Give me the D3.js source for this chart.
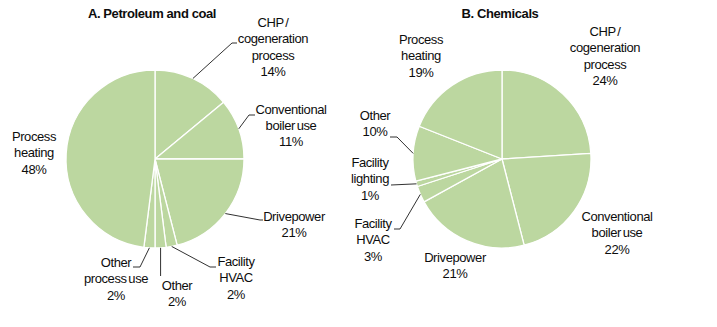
<!DOCTYPE html>
<html>
<head>
<meta charset="utf-8">
<script src="https://cdn.jsdelivr.net/npm/d3@7/dist/d3.min.js"></script>
<style>
  html, body { margin: 0; padding: 0; background: #ffffff; }
  svg { display: block; }
  text { font-family: "Liberation Sans", Arial, sans-serif; fill: #0d0d0d; }
</style>
</head>
<body>
<svg id="chart" width="717" height="327"></svg>
<script>
// ---- Data ----
const petroleumTitle = "A. Petroleum and coal";
const petroleumCategories = ["CHP / cogeneration process", "Conventional boiler use", "Drivepower", "Facility HVAC", "Other", "Other process use", "Process heating"];
const petroleumValues = [14, 11, 21, 2, 2, 2, 48];

const chemicalsTitle = "B. Chemicals";
const chemicalsCategories = ["CHP / cogeneration process", "Conventional boiler use", "Drivepower", "Facility HVAC", "Facility lighting", "Other", "Process heating"];
const chemicalsValues = [24, 22, 21, 3, 1, 10, 19];

// label line breaks (text content)
const petroleumLabelLines = [["CHP /", "cogeneration", "process"], ["Conventional", "boiler use"], ["Drivepower"], ["Facility", "HVAC"], ["Other"], ["Other", "process use"], ["Process", "heating"]];
const chemicalsLabelLines = [["CHP /", "cogeneration", "process"], ["Conventional", "boiler use"], ["Drivepower"], ["Facility", "HVAC"], ["Facility", "lighting"], ["Other"], ["Process", "heating"]];

// ---- Layout (positions, not data) ----
const R = 89;
const LINE_H = 16.4;
const panels = [
  {
    title: petroleumTitle, cats: petroleumCategories, vals: petroleumValues, lines: petroleumLabelLines,
    cx: 155, cy: 159, titleX: 152,
    // label center x, first baseline y, leader elbow, leader end (absolute)
    labels: [
      {x: 273, y: 27, leader: [[232, 43], [237, 43]]},
      {x: 291, y: 113.5, leader: [[249, 115], [255, 115]]},
      {x: 294, y: 221, leader: [[260, 220], [263, 220]]},
      {x: 236, y: 266, leader: [[210, 267], [216, 267]]},
      {x: 177, y: 290, leader: [[162, 276]], vertical: true},
      {x: 116, y: 267, leader: [[140, 267], [133, 267]]},
      {x: 34, y: 141, leader: null}
    ]
  },
  {
    title: chemicalsTitle, cats: chemicalsCategories, vals: chemicalsValues, lines: chemicalsLabelLines,
    cx: 502, cy: 159, titleX: 500,
    labels: [
      {x: 605, y: 36, leader: null},
      {x: 617, y: 221, leader: null},
      {x: 455, y: 262, leader: null},
      {x: 373, y: 228, leader: [[400, 229], [394, 229]]},
      {x: 370, y: 167, leader: [[391, 185]]},
      {x: 375, y: 120, leader: [[397, 137], [390, 137]]},
      {x: 421, y: 44, leader: null}
    ]
  }
];

const svg = d3.select("#chart");
const pie = d3.pie().sort(null).value(d => d).startAngle(0).endAngle(2 * Math.PI);
const arc = d3.arc().innerRadius(0).outerRadius(R);

panels.forEach(p => {
  const g = svg.append("g");

  g.append("text")
    .attr("x", p.titleX).attr("y", 18)
    .attr("text-anchor", "middle")
    .style("font-size", "13px").style("font-weight", "bold")
    .style("letter-spacing", "-0.4px")
    .text(p.title);

  const arcs = pie(p.vals);
  const pg = g.append("g").attr("transform", `translate(${p.cx},${p.cy})`);
  pg.selectAll("path").data(arcs).enter().append("path")
    .attr("d", arc)
    .attr("fill", "#bcd7a0")
    .attr("stroke", "#ffffff")
    .attr("stroke-width", 1.3)
    .attr("stroke-linejoin", "round");

  // leader lines
  arcs.forEach((a, i) => {
    const L = p.labels[i];
    if (!L.leader) return;
    const mid = (a.startAngle + a.endAngle) / 2;
    let sx = p.cx + R * Math.sin(mid);
    let sy = p.cy - R * Math.cos(mid);
    const pts = [[sx, sy]].concat(L.leader);
    if (L.vertical) { pts[1] = [sx, L.leader[0][1]]; }
    g.append("path")
      .attr("d", d3.line()(pts))
      .attr("fill", "none")
      .attr("stroke", "#1a1a1a")
      .attr("stroke-width", 0.9);
  });

  // labels
  arcs.forEach((a, i) => {
    const L = p.labels[i];
    const txt = g.append("text")
      .attr("text-anchor", "middle")
      .style("font-size", "13px")
      .style("letter-spacing", "-0.4px")
      .style("word-spacing", "-1.5px");
    const allLines = p.lines[i].concat([d3.format(".0f")(p.vals[i]) + "%"]);
    allLines.forEach((ln, k) => {
      txt.append("tspan").attr("x", L.x).attr("y", L.y + k * LINE_H).text(ln);
    });
  });
});
</script>
</body>
</html>
